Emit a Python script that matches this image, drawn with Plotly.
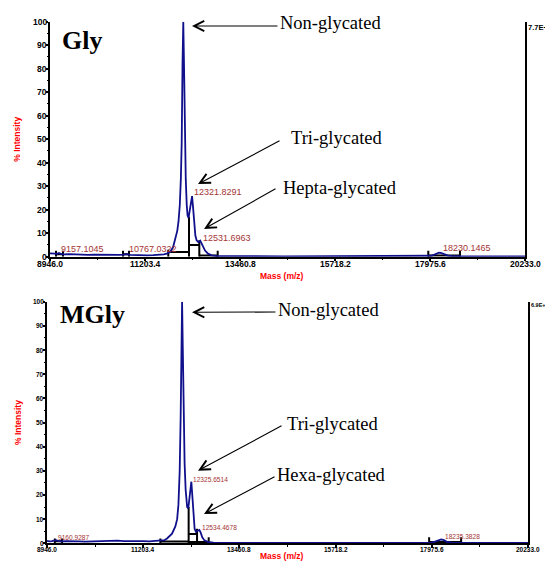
import plotly.graph_objects as go

# page body has an 8px margin: the figure fills the rest of the 553x562 window
OFF = 8
W, H = 553 - OFF, 562 - OFF

# ---------------- data ----------------
# Gly spectrum (mass m/z, % intensity)
gly_mass = [8946, 9000, 9060, 9120, 9157, 9200, 9280, 9400, 9550, 9700,
            9850, 10000, 10150, 10300, 10450, 10600, 10700, 10767, 10850, 10950,
            11100, 11250, 11400, 11550, 11650, 11720, 11800, 11870, 11920, 11970,
            12000, 12030, 12055, 12075, 12095, 12113, 12132, 12152, 12172, 12195,
            12215, 12238, 12262, 12290, 12322, 12350, 12375, 12400, 12430, 12470,
            12515, 12545, 12580, 12630, 12700, 12790, 12900, 13100, 13500, 14500,
            15500, 16500, 17500, 17900, 18000, 18080, 18140, 18190, 18250, 18320,
            18400, 18500, 18700, 19500, 20233]
gly_int = [1.4, 1.2, 1.3, 1.2, 1.6, 1.2, 1.0, 1.1, 0.9, 1.0,
           0.8, 0.9, 0.8, 0.9, 0.7, 0.8, 0.9, 1.1, 0.8, 0.7,
           0.7, 0.6, 0.7, 0.8, 1.0, 1.3, 2.0, 4.0, 7.0, 11.0,
           15.0, 22.0, 33.0, 48.0, 82.0, 100.0, 80.0, 50.0, 33.0, 22.0,
           17.5, 16.5, 19.0, 23.5, 25.8, 20.0, 13.0, 9.0, 7.0, 6.2,
           6.8, 5.8, 4.0, 2.6, 1.3, 0.6, 0.3, 0.2, 0.2, 0.15,
           0.15, 0.15, 0.2, 0.25, 0.4, 0.9, 1.3, 1.7, 1.5, 0.9,
           0.5, 0.3, 0.2, 0.15, 0.15]

# MGly spectrum
mgly_mass = [8946, 9000, 9060, 9120, 9160, 9200, 9280, 9400, 9550, 9700,
             9850, 10000, 10150, 10300, 10450, 10600, 10750, 10900, 11050, 11200,
             11350, 11500, 11600, 11700, 11763, 11880, 11958, 12000, 12030, 12060,
             12082, 12100, 12116, 12133, 12153, 12175, 12200, 12235, 12262, 12290,
             12315, 12333, 12355, 12380, 12410, 12440, 12490, 12520, 12550, 12590,
             12640, 12720, 12850, 13100, 13500, 14500, 15500, 16500, 17500, 17950,
             18050, 18120, 18195, 18260, 18330, 18450, 18700, 19500, 20233]
mgly_int = [1.0, 0.8, 0.9, 1.0, 1.3, 1.0, 0.8, 0.9, 0.7, 0.8,
            0.7, 0.8, 0.9, 0.8, 1.0, 1.1, 0.9, 1.0, 0.8, 0.9,
            0.8, 0.9, 1.0, 1.3, 2.0, 4.0, 7.0, 10.0, 16.0, 30.0,
            52.0, 80.0, 100.0, 80.0, 52.0, 33.0, 22.0, 15.0, 14.5, 19.0,
            24.5, 25.5, 20.0, 11.0, 6.0, 4.8, 5.2, 5.5, 4.5, 2.5,
            1.2, 0.6, 0.3, 0.2, 0.2, 0.15, 0.15, 0.15, 0.2, 0.3,
            0.7, 1.2, 1.6, 1.3, 0.6, 0.3, 0.2, 0.15, 0.15]

# peak labels
gly_peak_mass = [9157.1045, 10767.0322, 12113.2646, 12321.8291, 12531.6963, 18230.1465]
gly_peak_label_y = [3.3, 3.3, 102.4, 27.7, 8.1, 3.7]
mgly_peak_mass = [9160.9287, 12115.7988, 12325.6514, 12534.4678, 18235.3828]
mgly_peak_label_y = [2.5, 101.4, 26.5, 6.6, 3.0]

# integration markers (black)
gly_tick_mass = [9089, 9255, 10681, 10823, 11757, 12249, 12494, 12931, 17935, 18688]
gly_tick_top = [2.5, 2.5, 2.5, 2.5, 3.0, 17.0, 7.0, 2.5, 2.5, 2.5]
gly_bar_start = [9089, 10681, 11757, 12249, 12494, 17935]
gly_bar_end = [9255, 10823, 12249, 12494, 12931, 18688]
gly_bar_level = [1.0, 1.0, 2.0, 5.0, 0.5, 0.5]

mgly_tick_mass = [9130, 9300, 11606, 12270, 12467, 12740, 17913, 18664]
mgly_tick_top = [2.0, 2.0, 2.0, 15.0, 6.0, 2.5, 2.5, 2.5]
mgly_bar_start = [9130, 11606, 12270, 12270, 12467, 17913]
mgly_bar_end = [9300, 12270, 12467, 12467, 12740, 18664]
mgly_bar_level = [0.8, 0.7, 3.8, 0.5, 0.5, 0.5]

# axis ticks
x_tick_vals = [8946.0, 11203.4, 13460.8, 15718.2, 17975.6, 20233.0]
x_tick_text = ["8946.0", "11203.4", "13460.8", "15718.2", "17975.6", "20233.0"]
x_minor_vals = [10074.7, 12332.1, 14589.5, 16846.9, 19104.3]
y_tick_vals = [0, 10, 20, 30, 40, 50, 60, 70, 80, 90, 100]
y_tick_text = ["0", "10", "20", "30", "40", "50", "60", "70", "80", "90", "100"]
y_minor_vals = [5, 15, 25, 35, 45, 55, 65, 75, 85, 95]

panel_titles = ["Gly", "MGly"]
top_labels = ["Non-glycated", "Tri-glycated", "Hepta-glycated"]
bottom_labels = ["Non-glycated", "Tri-glycated", "Hexa-glycated"]
scale_labels = ["7.7E+4", "6.9E+4"]

# ---------------- styling ----------------
BLUE = "#10108c"
LABEL_RED = "#a33434"
SANS = "Arial, Liberation Sans, sans-serif"
SERIF = "Times New Roman, Liberation Serif, serif"


def px(x):
    return (x - OFF) / W


def py(y):
    return 1 - (y - OFF) / H


def segments(tick_mass, tick_top, bar_start, bar_end, bar_level):
    xs, ys = [], []
    for m, t in zip(tick_mass, tick_top):
        xs += [m, m, None]
        ys += [0, t, None]
    for a, b, lv in zip(bar_start, bar_end, bar_level):
        xs += [a, b, None]
        ys += [lv, lv, None]
    return xs, ys


fig = go.Figure()

panels = [
    dict(xa="x", ya="y", mass=gly_mass, inten=gly_int,
         seg=segments(gly_tick_mass, gly_tick_top, gly_bar_start, gly_bar_end, gly_bar_level)),
    dict(xa="x2", ya="y2", mass=mgly_mass, inten=mgly_int,
         seg=segments(mgly_tick_mass, mgly_tick_top, mgly_bar_start, mgly_bar_end, mgly_bar_level)),
]
for p in panels:
    fig.add_trace(go.Scatter(x=p["seg"][0], y=p["seg"][1], mode="lines",
                             line=dict(color="black", width=2),
                             xaxis=p["xa"], yaxis=p["ya"], showlegend=False,
                             hoverinfo="skip"))
    fig.add_trace(go.Scatter(x=p["mass"], y=p["inten"], mode="lines",
                             line=dict(color=BLUE, width=1.8),
                             xaxis=p["xa"], yaxis=p["ya"], showlegend=False))

# panel geometry (reference pixels): plot box, tick-label font, peak-label font,
# x tick-label centre row, y tick-label right edge
geo = [
    dict(x0=50, x1=525, y0=21.7, y1=256.7, tick=8.5, lab=9, xlab_y=264.5, ylab_x=47.5),
    dict(x0=47, x1=528, y0=301.7, y1=543.3, tick=6.5, lab=6.6, xlab_y=549, ylab_x=44.5),
]


def axis_common(anchor, ticklen):
    return dict(showline=True, linewidth=2, linecolor="black", showgrid=False,
                zeroline=False, ticks="outside", ticklen=ticklen, tickwidth=1.5,
                tickcolor="black", anchor=anchor, automargin=False,
                showticklabels=False)


layout = dict(width=W, height=H, margin=dict(l=0, r=0, t=0, b=0, pad=0),
              paper_bgcolor="white", plot_bgcolor="white", showlegend=False)
for i, g in enumerate(geo):
    sfx = "" if i == 0 else "2"
    xa = axis_common("y" + sfx, 2.5)
    xa.update(domain=[px(g["x0"]), px(g["x1"])], range=[8946, 20233],
              tickvals=x_tick_vals,
              minor=dict(tickvals=x_minor_vals, ticks="outside", ticklen=1.5,
                         tickcolor="black", tickwidth=1))
    ya = axis_common("x" + sfx, 2)
    ya.update(domain=[py(g["y1"]), py(g["y0"])], range=[0, 100],
              tickvals=y_tick_vals, mirror=True,
              minor=dict(tickvals=y_minor_vals, ticks="outside", ticklen=1.5,
                         tickcolor="black", tickwidth=1))
    layout["xaxis" + sfx] = xa
    layout["yaxis" + sfx] = ya
fig.update_layout(**layout)

ann = []
# tick labels placed by the axes' own scales
for i, g in enumerate(geo):
    sfx = "" if i == 0 else "2"
    tf = dict(family=SANS, size=g["tick"], color="black", weight="bold")
    for v, t in zip(x_tick_vals, x_tick_text):
        ann.append(dict(x=v, y=py(g["xlab_y"]), xref="x" + sfx, yref="paper", text=t,
                        showarrow=False, xanchor="center", yanchor="middle", font=tf,
                        borderpad=0))
    for v, t in zip(y_tick_vals, y_tick_text):
        ann.append(dict(x=px(g["ylab_x"]), y=v, xref="paper", yref="y" + sfx, text=t,
                        showarrow=False, xanchor="right", yanchor="middle", font=tf,
                        borderpad=0))

# peak labels
for sfx, masses, ys, g in [("", gly_peak_mass, gly_peak_label_y, geo[0]),
                           ("2", mgly_peak_mass, mgly_peak_label_y, geo[1])]:
    for m, yv in zip(masses, ys):
        ann.append(dict(x=m, y=yv, xref="x" + sfx, yref="y" + sfx, text=f"{m:.4f}",
                        showarrow=False, xanchor="left", yanchor="middle",
                        font=dict(family=SANS, size=g["lab"], color=LABEL_RED)))

# axis titles
for i, g in enumerate(geo):
    cy = (g["y0"] + g["y1"]) / 2
    ann.append(dict(x=px(17.5), y=py(cy), xref="paper", yref="paper", text="% Intensity",
                    textangle=-90, showarrow=False, xanchor="center", yanchor="middle",
                    font=dict(family=SANS, size=8.5, color="red", weight="bold")))
ann.append(dict(x=px(282), y=py(276), xref="paper", yref="paper", text="Mass (m/z)",
                showarrow=False, borderpad=0,
                font=dict(family=SANS, size=8.5, color="red", weight="bold")))
ann.append(dict(x=px(282), y=py(562), xref="paper", yref="paper", text="Mass (m/z)",
                showarrow=False, borderpad=0, xanchor="center", yanchor="bottom",
                font=dict(family=SANS, size=8.5, color="red", weight="bold")))

# scale labels at top right
ann.append(dict(x=px(526), y=py(27), xref="paper", yref="paper", text=scale_labels[0],
                showarrow=False, xanchor="left", yanchor="middle",
                font=dict(family=SANS, size=7.5, color="black", weight="bold")))
ann.append(dict(x=px(529), y=py(305), xref="paper", yref="paper", text=scale_labels[1],
                showarrow=False, xanchor="left", yanchor="middle",
                font=dict(family=SANS, size=5.5, color="black", weight="bold")))

# panel titles
ann.append(dict(x=px(60), y=py(40), xref="paper", yref="paper", text=panel_titles[0],
                showarrow=False, xanchor="left", yanchor="middle",
                font=dict(family=SERIF, size=26, color="black", weight="bold")))
ann.append(dict(x=px(58), y=py(314), xref="paper", yref="paper", text=panel_titles[1],
                showarrow=False, xanchor="left", yanchor="middle",
                font=dict(family=SERIF, size=26, color="black", weight="bold")))

# glycation annotations: text (center px) and arrow (head px, tail px)
text_pos = [(330, 22.5), (337, 138), (340, 188.5), (328, 310), (333, 424), (331.5, 475)]
arrow_heads = [(192, 26), (198, 184), (204, 229), (192, 312.3), (198, 470.7), (204, 514)]
arrow_tails = [(279, 26), (281, 140), (277, 188), (277, 312), (283, 425), (276, 476)]
for lbl, (tx, ty) in zip(top_labels + bottom_labels, text_pos):
    ann.append(dict(x=px(tx), y=py(ty), xref="paper", yref="paper", text=lbl,
                    showarrow=False, xanchor="center", yanchor="middle",
                    font=dict(family=SERIF, size=18.5, color="black")))
for (hx, hy), (tx, ty) in zip(arrow_heads, arrow_tails):
    ann.append(dict(x=px(hx), y=py(hy), xref="paper", yref="paper", text="",
                    showarrow=True, ax=tx - hx, ay=ty - hy, axref="pixel", ayref="pixel",
                    arrowhead=5, arrowsize=1.8, arrowwidth=1.1, arrowcolor="black",
                    standoff=0, startstandoff=0))

fig.update_layout(annotations=ann)
fig.write_html("out.html")
